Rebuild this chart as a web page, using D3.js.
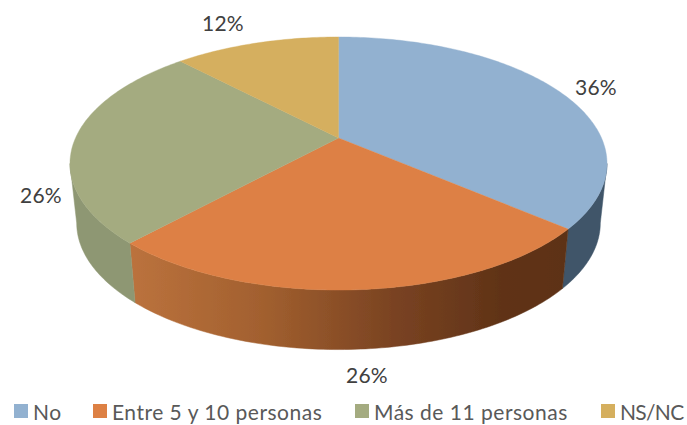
<!DOCTYPE html>
<html><head><meta charset="utf-8">
<script src="https://cdn.jsdelivr.net/npm/d3@7"></script>
<style>html,body{margin:0;padding:0;background:#fff}svg{display:block}text{font-family:Lato,sans-serif}</style>
</head><body><svg id="c" width="687" height="425"></svg>
<script>
const categories=["No","Entre 5 y 10 personas","Más de 11 personas","NS/NC"];
const values=[36.3,25.5,26.1,12.1];
const labels=["36%","26%","26%","12%"];
const topColors=["#92b1d0","#dd8044","#a4ab80","#d5af5e"];
const sideColors=["#3f5569","url(#og)","#8e9773","#a88a48"];
const labelPos=[[596,86],[367,374],[41,194],[223,22]];
const legendX=[14,93,355,601];
const legendSpacing=[0.5,0.5,0.5,-0.7];

const svg=d3.select("#c");
const cx=338.5,cy=138,rxP=263,ryP=121.4,p=0.2016,depth=59.5,shrink=0.975;
const proj=a=>{const u=Math.sin(a),v=-Math.cos(a),w=1-p*v;return [cx+rxP*u/w,cy+ryP*v/w];};
const lower=q=>[cx+(q[0]-cx)*shrink,q[1]+depth];
const arcs=d3.pie().sort(null).value(d=>d)(values);
const line=d3.line();
const sample=(a,b)=>{const n=Math.max(2,Math.ceil((b-a)*60));return d3.range(n+1).map(i=>a+(b-a)*i/n);};

const defs=svg.append("defs");
const g=defs.append("linearGradient").attr("id","og").attr("gradientUnits","userSpaceOnUse").attr("x1",131).attr("x2",567).attr("y1",0).attr("y2",0);
[[0,"#bb723d"],[0.3,"#a2602f"],[0.6,"#7a4322"],[0.85,"#603317"],[1,"#5d3216"]].forEach(s=>g.append("stop").attr("offset",s[0]).attr("stop-color",s[1]));
defs.append("filter").attr("id","soft").append("feGaussianBlur").attr("stdDeviation",0.5);
const pie3d=svg.append("g").attr("filter","url(#soft)");

// visible front wall runs between the two widest points of the ellipse
const a0=Math.PI-Math.acos(p),a1=Math.PI+Math.acos(p);
arcs.forEach((d,i)=>{
  const st=Math.max(d.startAngle,a0),e=Math.min(d.endAngle,a1);
  if(e<=st)return;
  const tp=sample(st,e).map(proj);
  const bt=tp.map(lower).reverse();
  pie3d.append("path").attr("d",line(tp.concat(bt))+"Z").attr("fill",sideColors[i]).attr("stroke",sideColors[i]).attr("stroke-width",0.5);
});
arcs.forEach((d,i)=>{
  const pts=[[cx,cy]].concat(sample(d.startAngle,d.endAngle).map(proj));
  pie3d.append("path").attr("d",line(pts)+"Z").attr("fill",topColors[i]).attr("stroke",topColors[i]).attr("stroke-width",0.4);
});
labels.forEach((t,i)=>{
  svg.append("text").attr("x",labelPos[i][0]).attr("y",labelPos[i][1]).attr("text-anchor","middle").attr("dominant-baseline","central").attr("font-size",21).attr("letter-spacing",0.2).attr("fill","#404040").text(t);
});
categories.forEach((t,i)=>{
  svg.append("rect").attr("x",legendX[i]).attr("y",404).attr("width",14).attr("height",14).attr("fill",topColors[i]);
  svg.append("text").attr("x",legendX[i]+19).attr("y",411).attr("dominant-baseline","central").attr("font-size",21).attr("letter-spacing",legendSpacing[i]).attr("fill","#595959").text(t);
});
</script></body></html>
